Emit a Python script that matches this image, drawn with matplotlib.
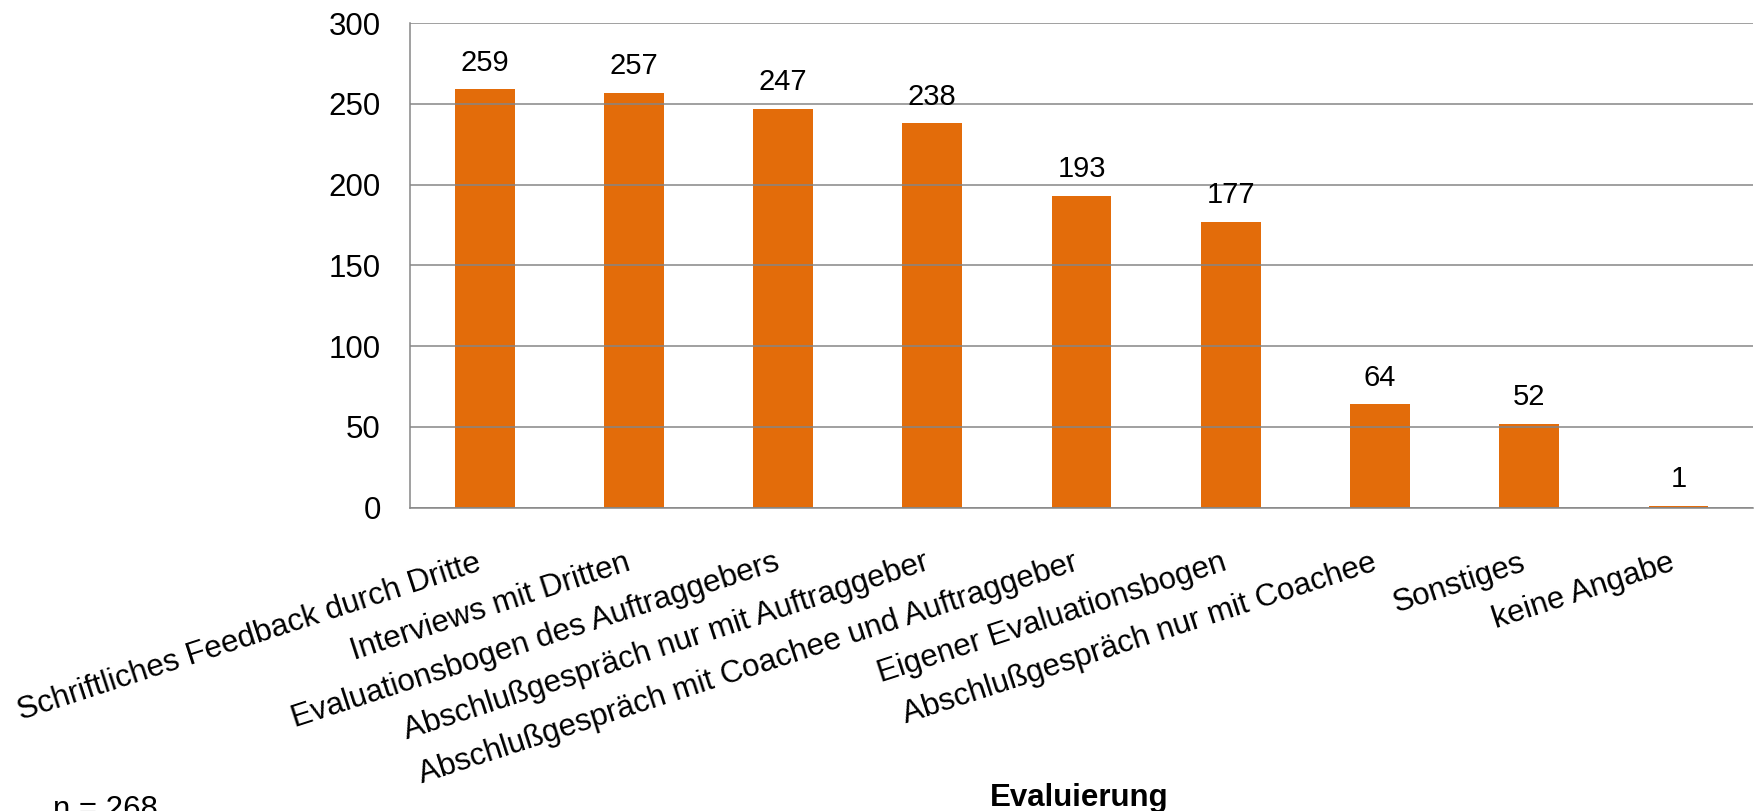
import numpy as np
import matplotlib
matplotlib.use("Agg")
import matplotlib.pyplot as plt

# Daten aus der Umfrage (n = 268)
categories = [
    "Schriftliches Feedback durch Dritte",
    "Interviews mit Dritten",
    "Evaluationsbogen des Auftraggebers",
    "Abschlußgespräch nur mit Auftraggeber",
    "Abschlußgespräch mit Coachee und Auftraggeber",
    "Eigener Evaluationsbogen",
    "Abschlußgespräch nur mit Coachee",
    "Sonstiges",
    "keine Angabe",
]
counts = [259, 257, 247, 238, 193, 177, 64, 52, 1]
y_ticks = [0, 50, 100, 150, 200, 250, 300]

bar_color = "#E36C0A"
grid_color = "#868686"

plt.rcParams["font.family"] = ["Liberation Sans", "DejaVu Sans"]

fig = plt.figure(figsize=(17.57, 8.11), dpi=100)
ax = fig.add_axes([0.2334, 0.3742, 0.9977 - 0.2334, 0.9713 - 0.3742])

x = np.arange(len(categories))
bars = ax.bar(x, counts, width=0.4, color=bar_color, zorder=2)

# Werte über den Balken
ax.bar_label(bars, labels=[str(c) for c in counts], padding=9, fontsize=21)

ax.set_xlim(-0.5, len(categories) - 0.5)
ax.set_ylim(0, 300)
ax.set_yticks(y_ticks)
ax.set_yticklabels([str(t) for t in y_ticks], fontsize=22.5)

ax.set_xticks(x)
ax.set_xticklabels(categories, fontsize=22.5, rotation=18, ha="right", va="top")

ax.tick_params(axis="y", length=0, pad=21)
ax.tick_params(axis="x", length=0, pad=29)

ax.yaxis.grid(True, color=grid_color, linewidth=1.1, zorder=1)
ax.set_axisbelow(False)
for side in ["top", "right"]:
    ax.spines[side].set_visible(False)
for side in ["left", "bottom"]:
    ax.spines[side].set_color(grid_color)
    ax.spines[side].set_linewidth(1.1)
    ax.spines[side].set_zorder(3)

fig.text(0.614, 0.006, "Evaluierung", fontsize=22.5, fontweight="bold",
         ha="center", va="baseline")
fig.text(0.030, -0.009, "n = 268", fontsize=22.5, ha="left", va="baseline")

fig.savefig("out.png", dpi=100)
